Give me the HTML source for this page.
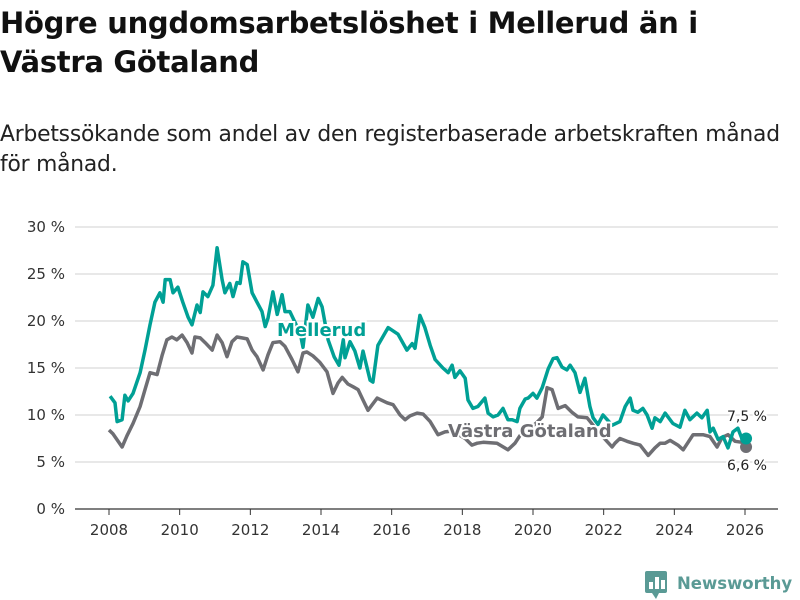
<!DOCTYPE html>
<html><head><meta charset="utf-8"><style>
body{margin:0;background:#fff;font-family:"Liberation Sans","DejaVu Sans",sans-serif;}
#wrap{position:relative;width:800px;height:600px;overflow:hidden;}
h1{position:absolute;left:0;top:4px;margin:0;font-size:29px;line-height:39px;font-weight:bold;color:#111;font-family:"DejaVu Sans","Liberation Sans",sans-serif;letter-spacing:-0.3px}
p{position:absolute;left:0;top:120px;margin:0;font-size:21.8px;line-height:30px;color:#222;font-family:"DejaVu Sans","Liberation Sans",sans-serif;letter-spacing:-0.2px}
svg text{font-family:"DejaVu Sans","Liberation Sans",sans-serif;}
</style></head><body><div id="wrap">
<h1>Högre ungdomsarbetslöshet i Mellerud än i<br>Västra Götaland</h1>
<p>Arbetssökande som andel av den registerbaserade arbetskraften månad<br>för månad.</p>
<svg id="chart" width="800" height="600" style="position:absolute;left:0;top:0"></svg>
</div>
<script>
const yTicks=[0,5,10,15,20,25,30];
const xTicks=[2008,2010,2012,2014,2016,2018,2020,2022,2024,2026];
const mellerudYears=[2008.03,2008.17,2008.23,2008.37,2008.45,2008.54,2008.68,2008.88,2009.02,2009.16,2009.30,2009.44,2009.53,2009.59,2009.73,2009.81,2009.95,2010.09,2010.24,2010.35,2010.49,2010.58,2010.66,2010.80,2010.94,2011.06,2011.20,2011.28,2011.42,2011.51,2011.62,2011.71,2011.79,2011.91,2012.05,2012.19,2012.33,2012.42,2012.50,2012.64,2012.76,2012.90,2012.98,2013.12,2013.41,2013.49,2013.63,2013.77,2013.92,2014.03,2014.20,2014.37,2014.51,2014.63,2014.68,2014.82,2014.96,2015.10,2015.19,2015.39,2015.47,2015.61,2015.90,2016.18,2016.43,2016.58,2016.66,2016.80,2016.94,2017.09,2017.23,2017.45,2017.60,2017.71,2017.79,2017.93,2018.08,2018.16,2018.30,2018.44,2018.64,2018.73,2018.87,2019.01,2019.15,2019.29,2019.41,2019.55,2019.63,2019.78,2019.86,2020.00,2020.11,2020.26,2020.43,2020.57,2020.68,2020.82,2020.96,2021.05,2021.19,2021.33,2021.47,2021.61,2021.70,2021.84,2021.98,2022.10,2022.24,2022.46,2022.61,2022.75,2022.83,2022.97,2023.11,2023.23,2023.37,2023.45,2023.60,2023.74,2023.82,2023.96,2024.16,2024.30,2024.44,2024.64,2024.78,2024.93,2025.01,2025.10,2025.24,2025.38,2025.52,2025.66,2025.80,2025.92,2026.03];
const mellerudValues=[12.0,11.3,9.3,9.5,12.1,11.5,12.3,14.5,16.9,19.6,22.0,23.0,22.0,24.4,24.4,23.0,23.6,22.0,20.4,19.6,21.7,20.9,23.1,22.6,23.8,27.8,24.4,23.0,24.0,22.6,24.1,24.0,26.3,26.0,23.0,22.0,21.0,19.4,20.3,23.1,20.7,22.8,21.0,21.0,18.7,17.2,21.7,20.4,22.4,21.5,18.0,16.2,15.3,18.0,16.1,17.8,16.8,15.0,16.8,13.7,13.5,17.4,19.3,18.6,16.9,17.6,17.1,20.6,19.3,17.4,15.9,15.0,14.5,15.3,14.0,14.7,13.9,11.6,10.7,10.9,11.8,10.2,9.8,10.0,10.7,9.5,9.5,9.3,10.7,11.7,11.8,12.3,11.8,12.9,14.9,16.0,16.1,15.1,14.8,15.3,14.5,12.4,13.9,10.9,9.7,9.0,10.0,9.5,8.9,9.3,10.9,11.8,10.5,10.3,10.7,10.0,8.6,9.7,9.3,10.2,9.8,9.1,8.7,10.5,9.5,10.2,9.7,10.5,8.2,8.6,7.4,7.7,6.5,8.2,8.6,7.4,7.5];
const vgYears=[2008.00,2008.11,2008.37,2008.51,2008.68,2008.88,2009.02,2009.16,2009.36,2009.50,2009.64,2009.78,2009.92,2010.07,2010.21,2010.35,2010.43,2010.58,2010.72,2010.92,2011.06,2011.20,2011.34,2011.48,2011.62,2011.76,2011.91,2012.05,2012.19,2012.36,2012.50,2012.64,2012.84,2012.98,2013.18,2013.35,2013.49,2013.60,2013.77,2013.97,2014.17,2014.34,2014.48,2014.60,2014.76,2014.91,2015.05,2015.19,2015.33,2015.59,2015.87,2016.04,2016.24,2016.38,2016.52,2016.72,2016.89,2017.09,2017.31,2017.51,2017.71,2018.08,2018.27,2018.42,2018.59,2018.98,2019.29,2019.49,2019.63,2019.92,2020.11,2020.26,2020.40,2020.54,2020.71,2020.91,2021.10,2021.27,2021.53,2021.90,2022.24,2022.32,2022.46,2022.66,2022.83,2023.03,2023.26,2023.45,2023.60,2023.74,2023.88,2024.10,2024.25,2024.53,2024.81,2025.01,2025.21,2025.35,2025.52,2025.72,2025.92,2026.03];
const vgValues=[8.4,8.0,6.6,7.8,9.1,10.9,12.7,14.5,14.3,16.3,18.0,18.3,18.0,18.5,17.7,16.6,18.3,18.2,17.7,16.9,18.5,17.7,16.2,17.8,18.3,18.2,18.1,16.9,16.2,14.8,16.4,17.7,17.8,17.3,15.9,14.6,16.6,16.7,16.3,15.6,14.6,12.3,13.4,14.0,13.3,13.0,12.7,11.6,10.5,11.8,11.3,11.1,10.0,9.5,9.9,10.2,10.1,9.3,7.9,8.2,8.3,7.5,6.8,7.0,7.1,7.0,6.3,7.0,7.8,8.6,9.2,9.8,12.9,12.7,10.7,11.0,10.3,9.8,9.7,8.0,6.6,7.0,7.5,7.2,7.0,6.8,5.7,6.5,7.0,7.0,7.3,6.8,6.3,7.9,7.9,7.7,6.6,7.6,7.9,7.2,7.1,6.6];
const NS='http://www.w3.org/2000/svg';
const svg=document.getElementById('chart');
const X=y=>109+(y-2008)*(636/18);
const Y=v=>509-v*9.4;
function mk(t,a,p){const e=document.createElementNS(NS,t);for(const k in a)e.setAttribute(k,a[k]);(p||svg).appendChild(e);return e;}
yTicks.forEach(t=>{
  const l=mk('line',{x1:75,x2:778,y1:Y(t),y2:Y(t),stroke:t===0?'#333':'#d9d9d9','stroke-width':t===0?1.2:1.3});
  
  
  const tx=mk('text',{x:65,y:Y(t)+5,'text-anchor':'end','font-size':15,fill:'#333'});
  tx.textContent=t+' %';
  
  
});
xTicks.forEach(t=>{
  const l=mk('line',{x1:X(t),x2:X(t),y1:509,y2:515,stroke:'#333','stroke-width':1});
  
  
  const tx=mk('text',{x:X(t),y:535,'text-anchor':'middle','font-size':15,fill:'#333'});
  tx.textContent=t;
  
  
});
function line(xs,vs,c,name){
  const d=xs.map((x,i)=>(i?'L':'M')+X(x).toFixed(1)+','+Y(vs[i]).toFixed(1)).join('');
  const p=mk('path',{d:d,fill:'none',stroke:c,'stroke-width':3.5,'stroke-linejoin':'round'});
  
  
}
line(vgYears,vgValues,'#6e6e73','vastra-gotaland-line');
line(mellerudYears,mellerudValues,'#00a095','mellerud-line');
const d1=mk('circle',{cx:X(vgYears[vgYears.length-1]),cy:Y(vgValues[vgValues.length-1]),r:6,fill:'#6e6e73'});


const d2=mk('circle',{cx:X(mellerudYears[mellerudYears.length-1]),cy:Y(mellerudValues[mellerudValues.length-1]),r:6,fill:'#00a095'});


function lab(x,y,s,c,fs,w,name,anchor){
  const t=mk('text',{x:x,y:y,'font-size':fs,'font-weight':w,fill:c,stroke:'#fff','stroke-width':4,'paint-order':'stroke','text-anchor':anchor||'start'});
  t.textContent=s;
  
  
}
lab(277,336,'Mellerud','#00a095',18,'bold','mellerud-label');
lab(448,437,'Västra Götaland','#6e6e73',18,'bold','vastra-gotaland-label');
lab(767,421,'7,5 %','#222',14,'normal','mellerud-end-value','end');
lab(767,470,'6,6 %','#222',14,'normal','vastra-gotaland-end-value','end');
const g=mk('g',{});


mk('rect',{x:645,y:571,width:22,height:22,rx:2,fill:'#5a9a95'},g);
mk('path',{d:'M649,589 L649,582 L653,582 L653,589 M655,589 L655,577 L659,577 L659,589 M661,589 L661,580 L665,580 L665,589',fill:'#fff'},g);
mk('path',{d:'M652,593 L656,599 L659,593 Z',fill:'#5a9a95'},g);
const lt=mk('text',{x:677,y:589,'font-size':16.5,'font-weight':'bold',fill:'#5a9a95'},g);
lt.textContent='Newsworthy';
</script>
</body></html>
